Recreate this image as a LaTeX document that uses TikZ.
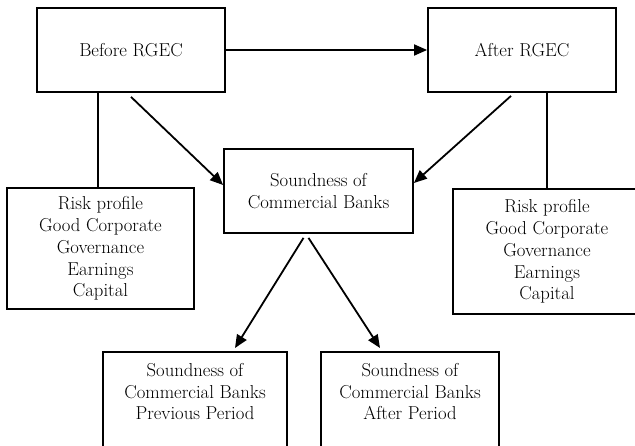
\documentclass[tikz,border=0pt]{standalone}
\usetikzlibrary{arrows.meta}
\begin{document}
\begin{tikzpicture}[x=1pt,y=-1pt,
  box/.style={draw, line width=1.8pt, inner sep=0pt, align=center,
    font=\fontsize{18.7}{21.8}\selectfont},
  conn/.style={line width=1.8pt},
  arr/.style={line width=1.8pt, -{Triangle[length=13pt,width=11pt]}},
  toptext/.style={align=center, font=\fontsize{18.7}{21.8}\selectfont, inner sep=0pt}]
\useasboundingbox (0,0) rectangle (635,446);
\clip (0,0) rectangle (635,446);
\fill[white] (0,0) rectangle (635,446);

\node[box, minimum width=188pt, minimum height=84pt] (before) at (131,50) {Before RGEC};
\node[box, minimum width=188pt, minimum height=84pt] (after) at (522,50) {After RGEC};
\node[box, minimum width=189pt, minimum height=84pt] (cen) at (318.5,191) {Soundness of\\Commercial Banks};
\node[box, minimum width=187pt, minimum height=121pt] (risk1) at (100.5,248.5)
  {Risk profile\\Good Corporate\\Governance\\Earnings\\Capital};
\node[box, minimum width=188pt, minimum height=125pt] (risk2) at (547,251.5)
  {Risk profile\\Good Corporate\\Governance\\Earnings\\Capital};
\node[box, anchor=north, minimum width=184pt, minimum height=130pt,
  label={[toptext, anchor=north, yshift=-12pt]north:{Soundness of\\Commercial Banks\\Previous Period}}]
  (bl) at (195,351) {};
\node[box, anchor=north, minimum width=178pt, minimum height=130pt,
  label={[toptext, anchor=north, yshift=-12pt]north:{Soundness of\\Commercial Banks\\After Period}}]
  (br) at (410,351) {};

\draw[arr] (before.east) -- (after.west);
\draw[arr] ([yshift=-4pt]before.south) -- ([yshift=6pt]cen.west);
\draw[arr] ([xshift=-11pt,yshift=-3pt]after.south) -- ([yshift=8pt]cen.east);
\draw[arr] ([xshift=-15pt,yshift=-4pt]cen.south) -- ([xshift=40pt,yshift=3pt]bl.north);
\draw[arr] ([xshift=-10pt,yshift=-4pt]cen.south) -- ([xshift=-30pt,yshift=3pt]br.north);
\draw[conn] ([xshift=-2.5pt]risk1.north) -- ([xshift=-2.5pt]risk1.north |- before.south);
\draw[conn] (risk2.north) -- (risk2.north |- after.south);
\end{tikzpicture}
\end{document}
